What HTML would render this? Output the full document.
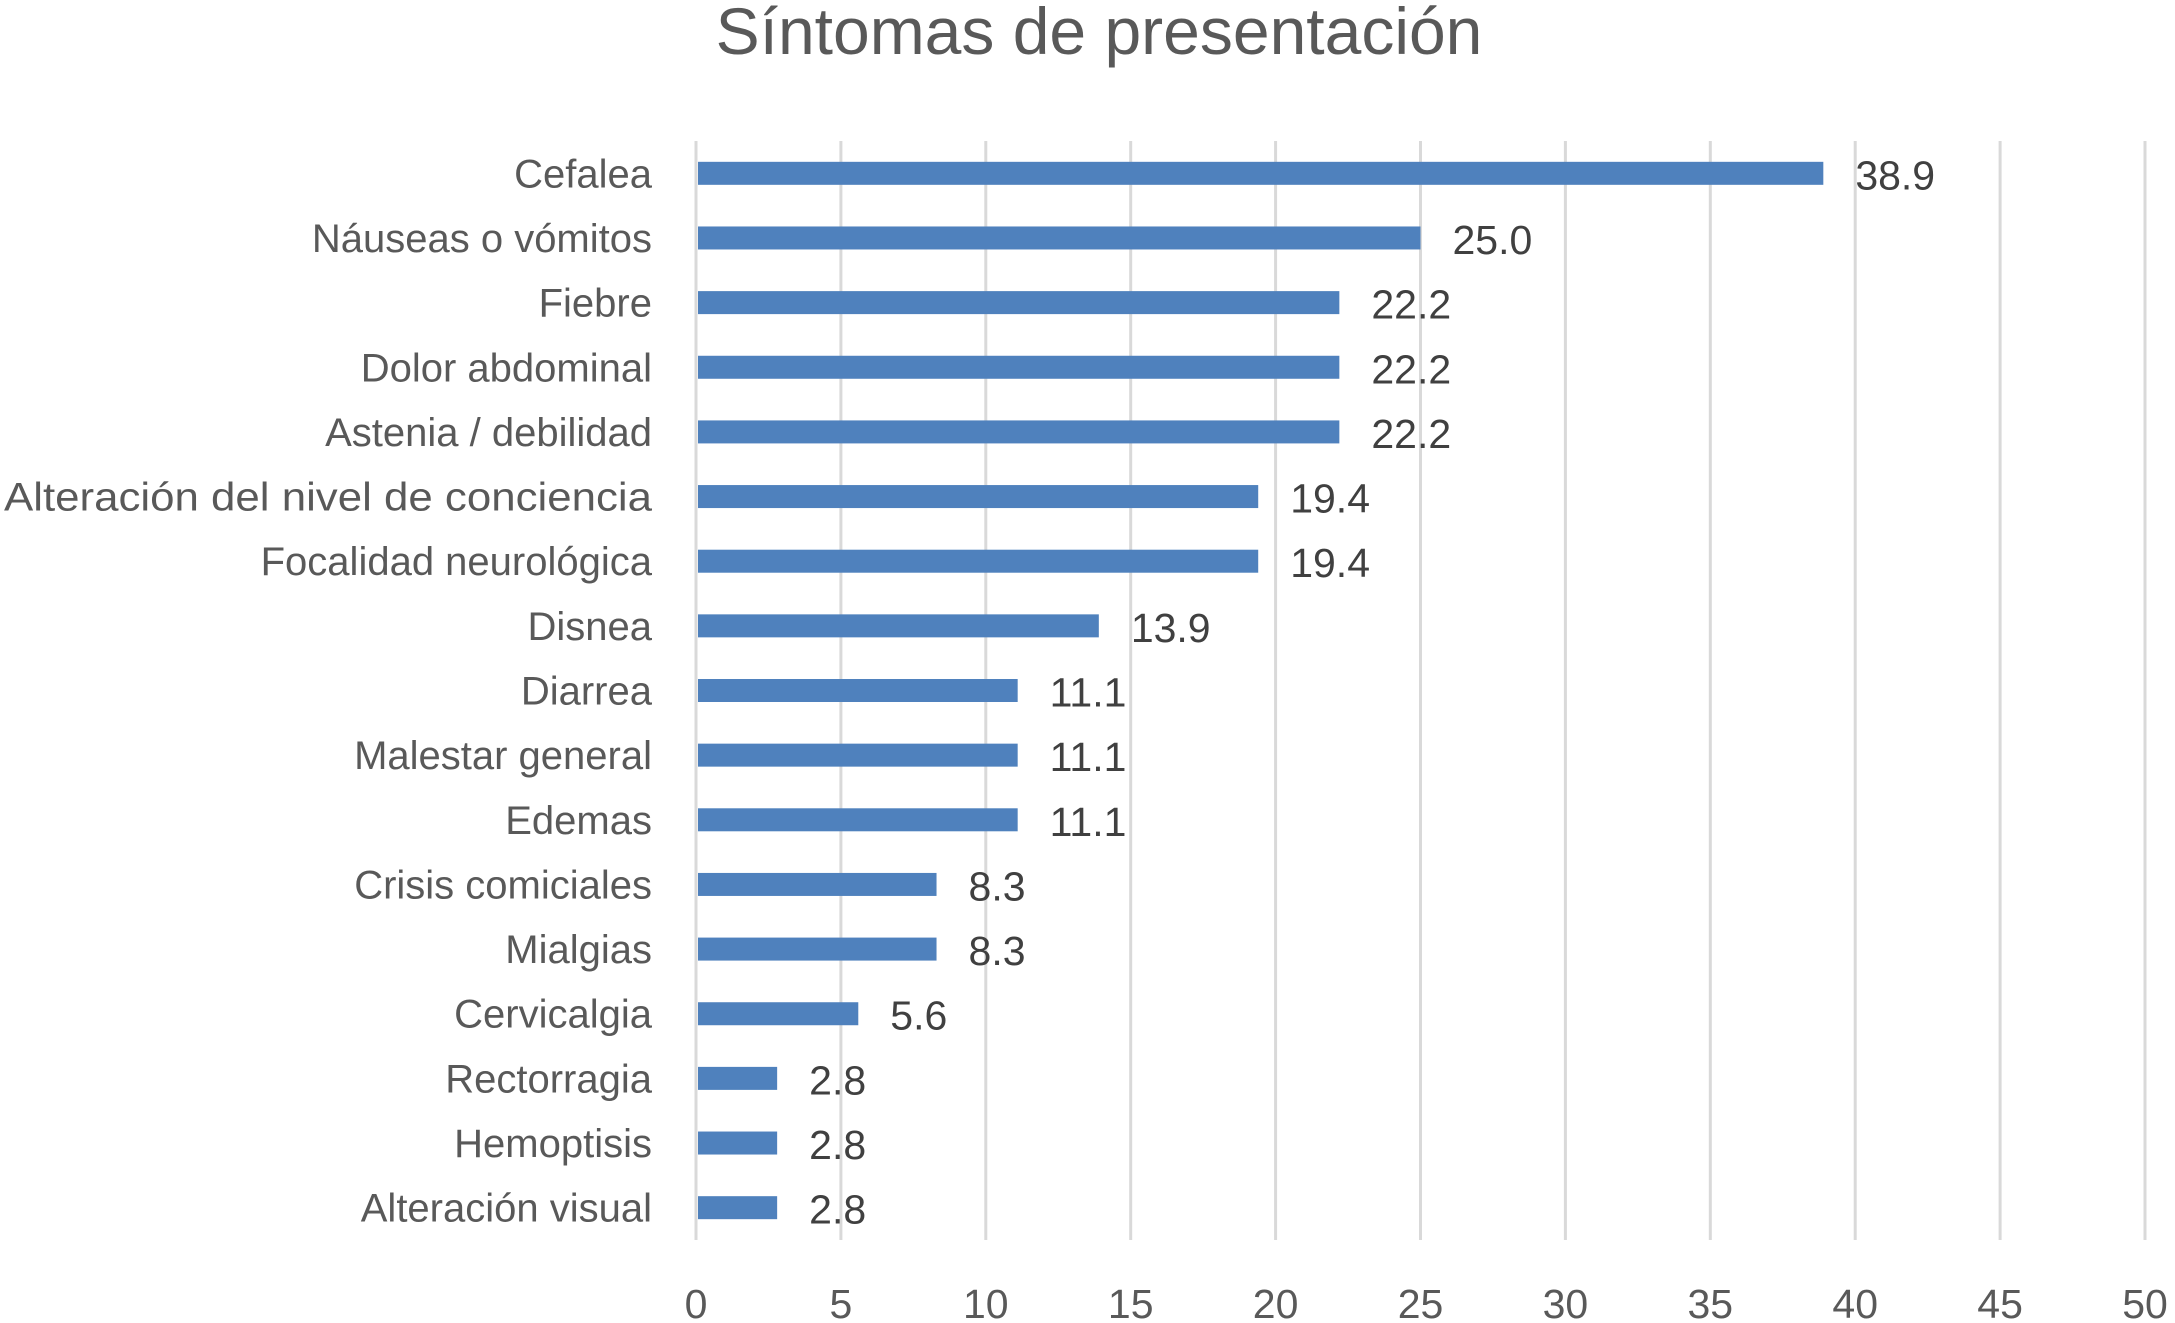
<!DOCTYPE html>
<html><head><meta charset="utf-8"><style>
html,body{margin:0;padding:0;background:#fff;}
svg{display:block;font-family:"Liberation Sans",sans-serif;}
</style></head><body>
<svg id="chart" width="2175" height="1323" viewBox="0 0 2175 1323">
<text x="1099" y="54" text-anchor="middle" font-size="66" fill="#595959">Síntomas de presentación</text>
<g id="grid"></g>
<g id="bars"></g>
<g id="cats"></g>
<g id="vals"></g>
<g id="ticks"></g>
</svg>
<script>
const categories=["Cefalea","Náuseas o vómitos","Fiebre","Dolor abdominal","Astenia / debilidad","Alteración del nivel de conciencia","Focalidad neurológica","Disnea","Diarrea","Malestar general","Edemas","Crisis comiciales","Mialgias","Cervicalgia","Rectorragia","Hemoptisis","Alteración visual"];
const values=[38.9,25.0,22.2,22.2,22.2,19.4,19.4,13.9,11.1,11.1,11.1,8.3,8.3,5.6,2.8,2.8,2.8];
const ticks=[0,5,10,15,20,25,30,35,40,45,50];
(function(){
const NS="http://www.w3.org/2000/svg";
const x0=696,x1=2145,plotTop=141,plotBot=1240;
const xs=v=>x0+(v/50)*(x1-x0);
const band=(plotBot-plotTop)/categories.length;
const yc=i=>plotTop+band*(i+0.5);
function mk(t,a,p){const e=document.createElementNS(NS,t);for(const k in a)e.setAttribute(k,a[k]);p.appendChild(e);return e;}
const g=document.getElementById('grid'),b=document.getElementById('bars'),c=document.getElementById('cats'),v=document.getElementById('vals'),tk=document.getElementById('ticks');
ticks.forEach(t=>{
  const l=mk('line',{x1:xs(t),x2:xs(t),y1:plotTop,y2:plotBot,stroke:'#d9d9d9','stroke-width':3},g);
  
  
  const tx=mk('text',{x:xs(t),y:1318,'text-anchor':'middle','font-size':41,fill:'#595959'},tk);
  tx.textContent=t;
  
  
});
categories.forEach((cat,i)=>{
  const y=yc(i);
  const r=mk('rect',{x:xs(0)+2,y:y-11.5,width:xs(values[i])-xs(0)-2,height:23,fill:'#4f81bd'},b);
  
  
  const lt=mk('text',{x:652,y:y+14,'text-anchor':'end','font-size':40,fill:'#595959'},c);
  lt.textContent=cat;
  if(cat.length>30){lt.setAttribute('textLength',648);lt.setAttribute('lengthAdjust','spacingAndGlyphs');}
  
  
  const vt=mk('text',{x:xs(values[i])+32,y:y+16,'font-size':41,fill:'#404040'},v);
  vt.textContent=values[i].toFixed(1);
  
  
});
})();
</script>
</body></html>
